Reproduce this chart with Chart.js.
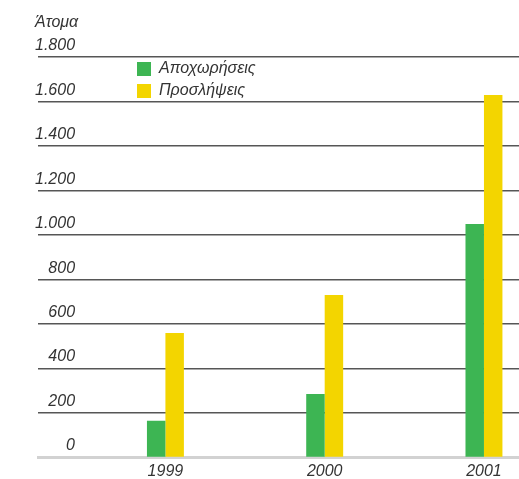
<!DOCTYPE html>
<html>
<head>
<meta charset="utf-8">
<script src="https://cdn.jsdelivr.net/npm/chart.js@4.4.1/dist/chart.umd.min.js"></script>
<style>
    html, body { margin: 0; padding: 0; background: #ffffff; }
    canvas { display: block; }
</style>
</head>
<body>
<canvas id="chart" width="519" height="479"></canvas>
<script>
// Data
const categories = ['1999', '2000', '2001'];
const departures = [165, 285, 1050];   // Αποχωρήσεις
const hires = [560, 731, 1630];        // Προσλήψεις
const seriesNames = ['Αποχωρήσεις', 'Προσλήψεις'];
const yTicks = [0, 200, 400, 600, 800, 1000, 1200, 1400, 1600, 1800];
const yTickLabels = ['0', '200', '400', '600', '800', '1.000', '1.200', '1.400', '1.600', '1.800'];
const yTitle = 'Άτομα';

const fontFamily = '"Liberation Sans", Arial, Helvetica, sans-serif';
const textColor = '#333333';
const tickFont = { family: fontFamily, size: 16, style: 'italic' };

const toPoints = (values) => values.map((v, i) => ({ x: Number(categories[i]), y: v }));

// mirrored y labels are drawn left aligned, so pad them with spaces to line them up on the right
const measureCtx = document.createElement('canvas').getContext('2d');
measureCtx.font = 'italic 16px ' + fontFamily;
const spaceW = measureCtx.measureText(' ').width;
const widest = Math.max(...yTickLabels.map(t => measureCtx.measureText(t).width));
const padLabel = (t) => ' '.repeat(Math.round((widest - measureCtx.measureText(t).width) / spaceW)) + t;

// moves the legend from the chart area corner to its place over the plot
const legendShift = {
    id: 'legendShift',
    afterLayout(chart) {
        const lg = chart.legend;
        if (!lg) return;
        const dx = 131 - lg.left;
        const dy = 55 - lg.top;
        lg.left += dx; lg.right += dx;
        lg.top += dy; lg.bottom += dy;
    }
};

new Chart(document.getElementById('chart').getContext('2d'), {
    type: 'bar',
    data: {
        datasets: [
            {
                label: seriesNames[0],
                data: toPoints(departures),
                backgroundColor: '#3db553',
                borderWidth: 0
            },
            {
                label: seriesNames[1],
                data: toPoints(hires),
                backgroundColor: '#f3d500',
                borderWidth: 0
            }
        ]
    },
    options: {
        responsive: false,
        animation: false,
        layout: { padding: { left: 35, right: 0, top: 0, bottom: 0 } },
        datasets: {
            bar: { categoryPercentage: 0.232, barPercentage: 1 }
        },
        plugins: {
            tooltip: { enabled: false },
            title: {
                display: true,
                text: yTitle,
                align: 'start',
                color: textColor,
                font: { family: fontFamily, size: 16, style: 'italic', weight: 'normal' },
                padding: { top: 13, bottom: 25 }
            },
            legend: {
                position: 'chartArea',
                align: 'start',
                labels: {
                    boxWidth: 14,
                    boxHeight: 14,
                    padding: 6,
                    color: textColor,
                    font: { family: fontFamily, size: 16, style: 'italic' }
                }
            }
        },
        scales: {
            x: {
                type: 'linear',
                offset: false,
                min: 1998.2,
                max: 2001.22,
                grid: { display: false, drawTicks: false },
                border: { display: true, color: '#d2d2d2', width: 3 },
                afterBuildTicks(scale) {
                    scale.ticks = categories.map(c => ({ value: Number(c) }));
                },
                afterFit(scale) { scale.height = 21.5; },
                ticks: {
                    padding: 4,
                    color: textColor,
                    font: tickFont,
                    callback: (v) => String(v)
                }
            },
            y: {
                min: 0,
                max: 1800,
                z: 1,
                afterBuildTicks(scale) {
                    scale.ticks = yTicks.map(v => ({ value: v }));
                },
                afterFit(scale) { scale.width = 3; },
                border: { display: false },
                grid: {
                    drawTicks: false,
                    lineWidth: 1.5,
                    color: (ctx) => ctx.tick && ctx.tick.value === 0 ? 'rgba(0,0,0,0)' : 'rgba(30,30,30,0.75)'
                },
                ticks: {
                    mirror: true,
                    padding: -3,
                    labelOffset: -11.5,
                    color: textColor,
                    font: tickFont,
                    callback: (v) => padLabel(yTickLabels[yTicks.indexOf(v)])
                }
            }
        }
    },
    plugins: [legendShift]
});
</script>
</body>
</html>
